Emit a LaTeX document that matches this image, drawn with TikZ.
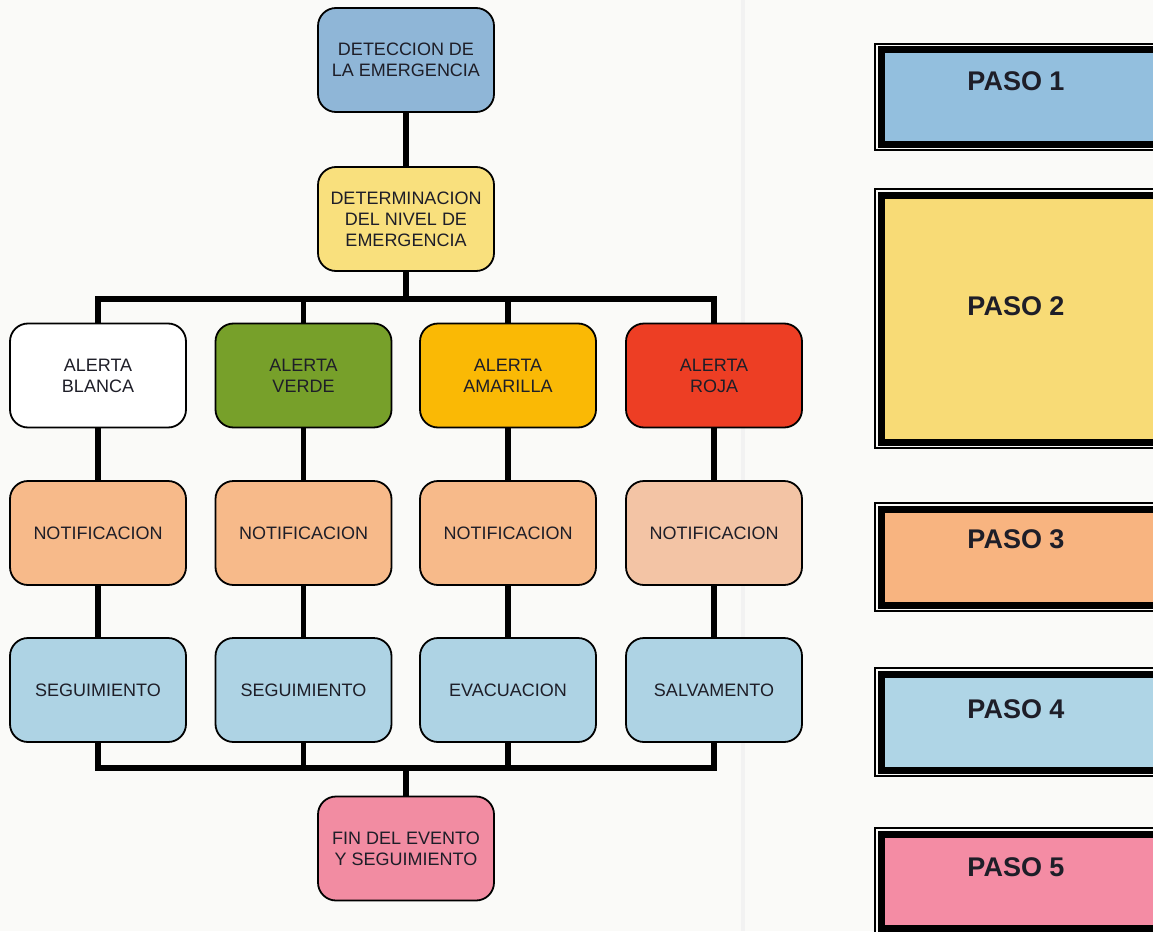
\documentclass[tikz,border=0pt]{standalone}
\usepackage{fontspec}
\setmainfont{Liberation Sans}
\definecolor{bgc}{RGB}{250,250,248}
\definecolor{txt}{RGB}{30,30,40}
\definecolor{cdet}{RGB}{143,182,215}
\definecolor{cdnl}{RGB}{249,224,125}
\definecolor{cwhite}{RGB}{255,255,255}
\definecolor{cgreen}{RGB}{119,160,42}
\definecolor{cyellow}{RGB}{250,185,5}
\definecolor{cred}{RGB}{237,62,36}
\definecolor{corange}{RGB}{247,186,138}
\definecolor{corange2}{RGB}{243,196,165}
\definecolor{cseg}{RGB}{174,211,228}
\definecolor{cfin}{RGB}{242,140,162}
\definecolor{cp1}{RGB}{147,191,222}
\definecolor{cp2}{RGB}{248,219,118}
\definecolor{cp3}{RGB}{248,180,128}
\definecolor{cp4}{RGB}{175,213,230}
\definecolor{cp5}{RGB}{244,140,164}
\tikzset{
  rbox/.style={rectangle, rounded corners=18pt, draw=black, line width=1.8pt,
    minimum width=176pt, minimum height=104pt, align=center, text=txt,
    font=\fontsize{18}{21}\selectfont, inner sep=2pt},
  conn/.style={line width=5.5pt, black, line join=miter},
  pasobox/.style={rectangle, draw=black, line width=7pt, inner sep=0pt, outer sep=0pt, anchor=north west},
  pasoframe/.style={draw=black, line width=1.4pt},
  pasotext/.style={text=txt, font=\fontsize{27}{30}\selectfont\bfseries}
}
\begin{document}
\begin{tikzpicture}[x=1pt,y=-1pt]
\useasboundingbox (0,0) rectangle (1153,931);
\clip (0,0) rectangle (1153,931);
\fill[bgc] (0,0) rectangle (1153,931);
\fill[gray!10] (741,0) rectangle (745,931);

% flowchart nodes
\node[rbox, fill=cdet] (det) at (406,60) {DETECCION DE\\LA EMERGENCIA};
\node[rbox, fill=cdnl] (dnl) at (406,219) {DETERMINACION\\DEL NIVEL DE\\EMERGENCIA};

\node[rbox, fill=cwhite]  (a1) at (98,375.5)  {ALERTA\\BLANCA};
\node[rbox, fill=cgreen]  (a2) at (303.5,375.5) {ALERTA\\VERDE};
\node[rbox, fill=cyellow] (a3) at (508,375.5) {ALERTA\\AMARILLA};
\node[rbox, fill=cred]    (a4) at (714,375.5) {ALERTA\\ROJA};

\node[rbox, fill=corange]  (n1) at (98,533)  {NOTIFICACION};
\node[rbox, fill=corange]  (n2) at (303.5,533) {NOTIFICACION};
\node[rbox, fill=corange]  (n3) at (508,533) {NOTIFICACION};
\node[rbox, fill=corange2] (n4) at (714,533) {NOTIFICACION};

\node[rbox, fill=cseg] (s1) at (98,690)  {SEGUIMIENTO};
\node[rbox, fill=cseg] (s2) at (303.5,690) {SEGUIMIENTO};
\node[rbox, fill=cseg] (s3) at (508,690) {EVACUACION};
\node[rbox, fill=cseg] (s4) at (714,690) {SALVAMENTO};

\node[rbox, fill=cfin] (fin) at (406,848.5) {FIN DEL EVENTO\\Y SEGUIMIENTO};

\coordinate (busT) at (406,299);
\coordinate (busB) at (406,768);

% connectors
\draw[conn] (det.south) -- (dnl.north);
\draw[conn] (dnl.south) -- (busT);
\draw[conn] (a1.north) |- (busT) -| (a4.north);
\draw[conn] (a2.north) -- (a2.north |- busT);
\draw[conn] (a3.north) -- (a3.north |- busT);
\foreach \i in {1,2,3,4}{
  \draw[conn] (a\i.south) -- (n\i.north);
  \draw[conn] (n\i.south) -- (s\i.north);
}
\draw[conn] (s1.south) |- (busB) -| (s4.south);
\draw[conn] (s2.south) -- (s2.south |- busB);
\draw[conn] (s3.south) -- (s3.south |- busB);
\draw[conn] (busB) -- (fin.north);

% legend boxes
\node[pasobox, fill=cp1, minimum width=300pt, minimum height=94pt]  (p1) at (881,50) {};
\node[pasobox, fill=cp2, minimum width=300pt, minimum height=247pt] (p2) at (881,195) {};
\node[pasobox, fill=cp3, minimum width=300pt, minimum height=96pt]  (p3) at (881,509) {};
\node[pasobox, fill=cp4, minimum width=300pt, minimum height=96pt]  (p4) at (881,674) {};
\node[pasobox, fill=cp5, minimum width=300pt, minimum height=94pt]  (p5) at (881,834) {};
\foreach \p in {p1,p2,p3,p4,p5}{
  \draw[pasoframe] ([shift={(-6,-6)}]\p.north west) rectangle ([shift={(6,6)}]\p.south east);
}
\node[pasotext] (t1) at (1016,81)  {PASO 1};
\node[pasotext] (t2) at (1016,306) {PASO 2};
\node[pasotext] (t3) at (1016,539) {PASO 3};
\node[pasotext] (t4) at (1016,709) {PASO 4};
\node[pasotext] (t5) at (1016,867) {PASO 5};
\end{tikzpicture}
\end{document}
